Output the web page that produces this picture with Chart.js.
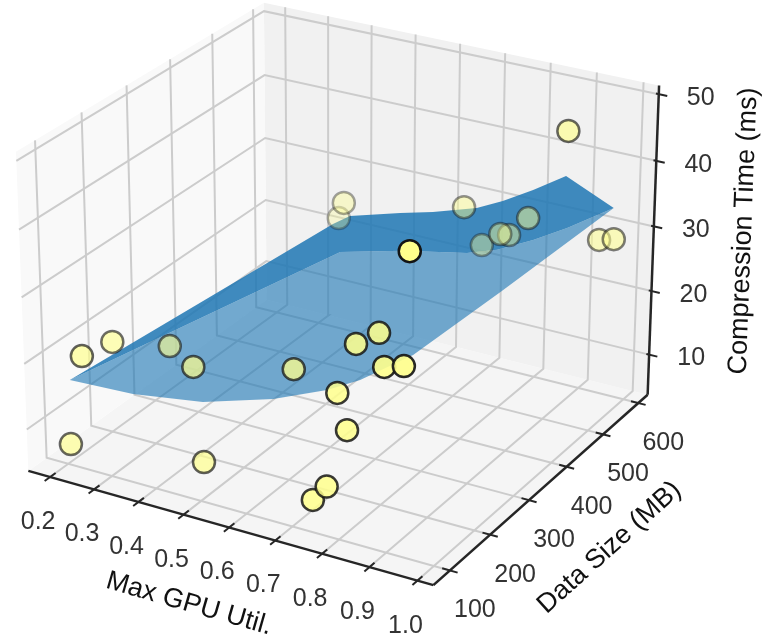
<!DOCTYPE html>
<html>
<head>
<meta charset="utf-8">
<script src="https://cdn.jsdelivr.net/npm/chart.js@4"></script>
<style>
html, body { margin: 0; background: #fff; }
</style>
</head>
<body>
<canvas id="myChart" width="772" height="639"></canvas>
<script>
// axis ticks and limits
const xTicks = [0.2, 0.3, 0.4, 0.5, 0.6, 0.7, 0.8, 0.9, 1.0];
const yTicks = [100, 200, 300, 400, 500, 600];
const zTicks = [10, 20, 30, 40, 50];
const xLim = [0.15, 1.033];
const yLim = [60, 627];
const zLim = [3.6, 51.3];

// scatter points
const gpuUtil = [0.409, 0.372, 0.873, 0.648, 0.775, 0.717, 0.731, 0.667, 0.804, 0.924, 0.955, 0.166, 0.182, 0.271, 0.365, 0.555, 0.690, 0.723, 0.766, 0.802, 0.679, 0.710, 0.169, 0.418, 0.699, 0.677];
const dataSize = [546, 574, 587, 586, 606, 602, 609, 613, 263, 616, 617, 169, 222, 265, 224, 261, 263, 282, 246, 253, 230, 219, 136, 191, 182, 173];
const compressionTime = [27.13, 22.93, 43.72, 28.56, 28.04, 24.79, 24.55, 21.74, 38.60, 26.63, 27.21, 16.27, 16.23, 15.12, 15.50, 16.77, 22.89, 24.24, 21.59, 22.02, 16.87, 12.33, 4.27, 3.35, 5.38, 3.38];

// fitted surface: the lower, paler sheet
const sheetX = [0.165, 0.229, 0.395, 0.555, 0.661, 0.724, 0.800, 0.849, 0.964, 0.862, 0.780, 0.730, 0.684, 0.570, 0.454];
const sheetY = [142, 220, 214, 212, 225, 235, 278, 445, 602, 605, 615, 578, 552, 518, 487];
const sheetZ = [13.87, 9.03, 11.12, 14.59, 17.24, 19.39, 22.45, 25.14, 32.79, 27.94, 24.30, 23.58, 23.48, 23.48, 22.75];
// and the darker fold behind it
const foldX = [0.859, 0.787, 0.718, 0.660, 0.561, 0.494, 0.399, 0.373, 0.165, 0.454, 0.570, 0.684, 0.730, 0.780, 0.862, 0.964];
const foldY = [602, 603, 606, 606, 606, 597, 573, 558, 142, 487, 518, 552, 578, 615, 605, 602];
const foldZ = [36.02, 32.69, 29.78, 27.76, 25.54, 24.71, 23.76, 22.71, 13.87, 22.75, 23.48, 23.48, 23.58, 24.30, 27.94, 32.79];

// camera, same idea as mplot3d
const ELEV = 25 * Math.PI / 180, AZIM = -60 * Math.PI / 180, DIST = 10;
const BOX = [1.19, 1.19, 0.893];
const K = 3880, CX = 344, CY = 278;
const right = [-Math.sin(AZIM), Math.cos(AZIM), 0];
const up = [-Math.sin(ELEV) * Math.cos(AZIM), -Math.sin(ELEV) * Math.sin(AZIM), Math.cos(ELEV)];
const toEye = [Math.cos(ELEV) * Math.cos(AZIM), Math.cos(ELEV) * Math.sin(AZIM), Math.sin(ELEV)];
const dot = (a, b) => a[0] * b[0] + a[1] * b[1] + a[2] * b[2];
const [x0, x1] = xLim, [y0, y1] = yLim, [z0, z1] = zLim;

function boxCoords(x, y, z) {
    return [
        ((x - x0) / (x1 - x0) - 0.5) * BOX[0],
        ((y - y0) / (y1 - y0) - 0.5) * BOX[1],
        ((z - z0) / (z1 - z0) - 0.5) * BOX[2],
    ];
}
function project(x, y, z) {
    const p = boxCoords(x, y, z);
    const d = DIST - dot(p, toEye);
    return { x: dot(p, right) / d, y: dot(p, up) / d };
}
const seg = (a, b) => [project(...a), project(...b)];

function lineSet(data, color, width, order) {
    return { data, showLine: true, borderColor: color, borderWidth: width, pointRadius: 0, order, fill: false, tension: 0 };
}
function polySet(corners, color, order) {
    const data = corners.concat([corners[0]]).map((c) => project(...c));
    return { data, showLine: true, borderWidth: 0, borderColor: "transparent", backgroundColor: color, fill: "shape", pointRadius: 0, order, tension: 0 };
}

const datasets = [
    polySet([[x0, y0, z0], [x0, y1, z0], [x0, y1, z1], [x0, y0, z1]], "#f9f9f9", 30),
    polySet([[x0, y1, z0], [x1, y1, z0], [x1, y1, z1], [x0, y1, z1]], "#f1f1f1", 30),
    polySet([[x0, y0, z0], [x1, y0, z0], [x1, y1, z0], [x0, y1, z0]], "#f5f5f5", 30),
];

const GRID = "#cccccc";
xTicks.forEach((x) => datasets.push(lineSet([project(x, y0, z0), project(x, y1, z0), project(x, y1, z1)], GRID, 2, 20)));
yTicks.forEach((y) => datasets.push(lineSet([project(x1, y, z0), project(x0, y, z0), project(x0, y, z1)], GRID, 2, 20)));
zTicks.forEach((z) => datasets.push(lineSet([project(x0, y0, z), project(x0, y1, z), project(x1, y1, z)], GRID, 2, 20)));

const AXIS = "#262626";
datasets.push(lineSet(seg([x0, y0, z0], [x1, y0, z0]), AXIS, 2.5, 10));
datasets.push(lineSet(seg([x1, y0, z0], [x1, y1, z0]), AXIS, 2.5, 10));
datasets.push(lineSet(seg([x1, y1, z0], [x1, y1, z1]), AXIS, 2.5, 10));
xTicks.forEach((x) => datasets.push(lineSet(seg([x, y0 + 12, z0], [x, y0 - 12, z0]), AXIS, 2, 10)));
yTicks.forEach((y) => datasets.push(lineSet(seg([x1 - 0.016, y, z0], [x1 + 0.016, y, z0]), AXIS, 2, 10)));
zTicks.forEach((z) => datasets.push(lineSet(seg([x1 - 0.006, y1, z], [x1 + 0.018, y1, z]), AXIS, 2, 10)));

datasets.push(polySet(sheetX.map((x, i) => [x, sheetY[i], sheetZ[i]]), "rgba(31,119,180,0.62)", 5));
datasets.push(polySet(foldX.map((x, i) => [x, foldY[i], foldZ[i]]), "rgba(31,119,180,0.85)", 5));

// far points are drawn first and fade out, like depthshade
const scatter = gpuUtil.map((x, i) => ({ x, y: dataSize[i], z: compressionTime[i] }));
scatter.forEach((p) => { p.depth = dot(boxCoords(p.x, p.y, p.z), toEye); });
scatter.sort((a, b) => a.depth - b.depth);
const nearest = scatter[scatter.length - 1].depth, farthest = scatter[0].depth;
const fade = (p) => (0.3 + 0.7 * (p.depth - farthest) / (nearest - farthest)).toFixed(3);
datasets.push({
    order: 1,
    data: scatter.map((p) => project(p.x, p.y, p.z)),
    pointRadius: 11,
    borderWidth: 2.5,
    pointBackgroundColor: scatter.map((p) => `rgba(255,255,140,${fade(p)})`),
    pointBorderColor: scatter.map((p) => `rgba(20,20,20,${fade(p)})`),
});

const tickFont = "25px 'Liberation Sans'", labelFont = "27px 'Liberation Sans'";
const textPlugin = {
    id: "text3d",
    afterDatasetsDraw(chart) {
        const { ctx, scales } = chart;
        const put = (text, q, dx, dy, font, color, rot) => {
            ctx.save();
            ctx.translate(scales.x.getPixelForValue(q.x) + dx, scales.y.getPixelForValue(q.y) + dy);
            ctx.rotate((rot || 0) * Math.PI / 180);
            ctx.font = font;
            ctx.fillStyle = color;
            ctx.textAlign = "center";
            ctx.textBaseline = "middle";
            ctx.fillText(text, 0, 0);
            ctx.restore();
        };
        xTicks.forEach((x) => put(x.toFixed(1), project(x, y0, z0), -12, 45, tickFont, "#333"));
        yTicks.forEach((y) => put(String(y), project(x1, y, z0), 25, 40, tickFont, "#333"));
        zTicks.forEach((z) => put(String(z), project(x1, y1, z), 42, 4, tickFont, "#333"));
        put("Max GPU Util.", project(0.58, y0, z0), -31, 79, labelFont, "#111", 16);
        put("Data Size (MB)", project(x1, 370, z0), 54, 71, labelFont, "#111", -42);
        put("Compression Time (ms)", project(x1, y1, 29.3), 90, 0, labelFont, "#111", -87.8);
    },
};

new Chart(document.getElementById("myChart"), {
    type: "scatter",
    data: { datasets },
    plugins: [textPlugin],
    options: {
        responsive: false,
        animation: false,
        layout: { padding: 0, autoPadding: false },
        plugins: { legend: { display: false }, tooltip: { enabled: false } },
        scales: {
            x: { display: false, type: "linear", min: -CX / K, max: (772 - CX) / K },
            y: { display: false, type: "linear", min: -(639 - CY) / K, max: CY / K },
        },
    },
});
</script>
</body>
</html>
